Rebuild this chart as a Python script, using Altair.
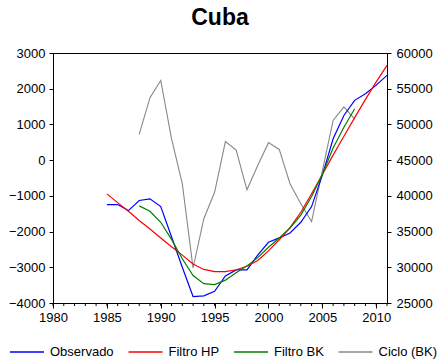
import altair as alt
import pandas as pd

# ---- data ----
years = list(range(1985, 2012))
observado = [38780, 38780, 37940, 39350, 39580, 38500, 34280, 30000, 25900, 26000,
             26630, 28790, 29630, 29630, 31700, 33500, 34110, 34800, 36300, 38500,
             42900, 48000, 51260, 53370, 54300, 55500, 56870]
filtro_hp = [40280, 39050, 37840, 36560, 35350, 34100, 32880, 31700, 30450, 29700,
             29400, 29400, 29650, 30150, 30950, 32300, 33850, 35550, 37700, 40300,
             43000, 45700, 48350, 50950, 53500, 55950, 58270]
years_bk = list(range(1988, 2009))
filtro_bk = [38600, 37850, 36300, 33900, 31200, 28850, 27700, 27570, 28200, 29250,
             30200, 31350, 32800, 34100, 35500, 37300, 39900, 43000, 46700, 49600, 52200]
ciclo_bk = [720, 1750, 2230, 600, -660, -3020, -1640, -900, 520, 280,
            -830, -150, 490, 300, -660, -1220, -1720, -300, 1110, 1490, 1150]

series_names = ["Observado", "Filtro HP", "Filtro BK", "Ciclo (BK)"]
series_colors = ["#0000FF", "#FF0000", "#008000", "#888888"]
major_years = [1980, 1985, 1990, 1995, 2000, 2005, 2010]
minor_years = list(range(1980, 2012))
left_ticks = [-4000, -3000, -2000, -1000, 0, 1000, 2000, 3000]
right_ticks = [25000, 30000, 35000, 40000, 45000, 50000, 55000, 60000]

levels = pd.concat([
    pd.DataFrame({"year": years, "value": observado, "series": "Observado", "ord": 0}),
    pd.DataFrame({"year": years, "value": filtro_hp, "series": "Filtro HP", "ord": 1}),
    pd.DataFrame({"year": years_bk, "value": filtro_bk, "series": "Filtro BK", "ord": 2}),
])
cycle = pd.DataFrame({"year": years_bk, "value": ciclo_bk, "series": "Ciclo (BK)"})
minor = pd.DataFrame({"year": minor_years})

FONT = "Liberation Sans"
W, H = 334, 250

x_scale = alt.Scale(domain=[1980, 2011], nice=False, zero=False)
x_axis = alt.Axis(values=major_years, format="d", title=None, grid=False,
                  tickSize=5, labelPadding=3, labelFontSize=13, labelFlush=False)
x_enc = alt.X("year:Q", scale=x_scale, axis=x_axis)

color = alt.Color(
    "series:N",
    scale=alt.Scale(domain=series_names, range=series_colors),
    sort=series_names,
    legend=alt.Legend(title=None, orient="none", direction="horizontal",
                      legendX=-44, legendY=281, symbolType="stroke",
                      symbolSize=1156, symbolStrokeWidth=1.5,
                      labelFontSize=13, labelFont=FONT, labelColor="black",
                      labelOffset=5, columnPadding=11.5, padding=0),
)

cycle_layer = alt.Chart(cycle).mark_line(strokeWidth=1.1).encode(
    x=x_enc,
    y=alt.Y("value:Q",
            scale=alt.Scale(domain=[-4000, 3000], nice=False, zero=False),
            axis=alt.Axis(orient="left", values=left_ticks, format="d", title=None,
                          grid=False, tickSize=4, labelPadding=4, labelFontSize=13,
                          labelFlush=False)),
    color=color,
)

levels_layer = alt.Chart(levels).mark_line(strokeWidth=1.2).encode(
    x=x_enc,
    y=alt.Y("value:Q",
            scale=alt.Scale(domain=[25000, 60000], nice=False, zero=False),
            axis=alt.Axis(orient="right", values=right_ticks, format="d", title=None,
                          grid=False, tickSize=4, labelPadding=5, labelFontSize=13,
                          labelFlush=False)),
    color=color,
    order="ord:Q",
)

minor_layer = alt.Chart(minor).mark_rule(color="black", strokeWidth=1).encode(
    x=x_enc,
    y=alt.value(H),
    y2=alt.value(H + 3),
)

chart = alt.layer(cycle_layer, levels_layer, minor_layer).resolve_scale(
    y="independent"
).properties(
    width=W,
    height=H,
    title=alt.TitleParams("Cuba", fontSize=23, fontWeight="bold", font=FONT,
                          anchor="middle", offset=17, color="black"),
    autosize=alt.AutoSizeParams(type="none"),
    padding={"left": 53, "top": 53, "right": 50, "bottom": 60},
    background="white",
).configure_view(
    stroke="black", strokeWidth=1
).configure_axis(
    domainColor="black", tickColor="black", labelColor="black",
    labelFont=FONT, domainWidth=1, tickWidth=1
)

chart.save("out.html", embed_options={"renderer": "svg", "actions": False})
